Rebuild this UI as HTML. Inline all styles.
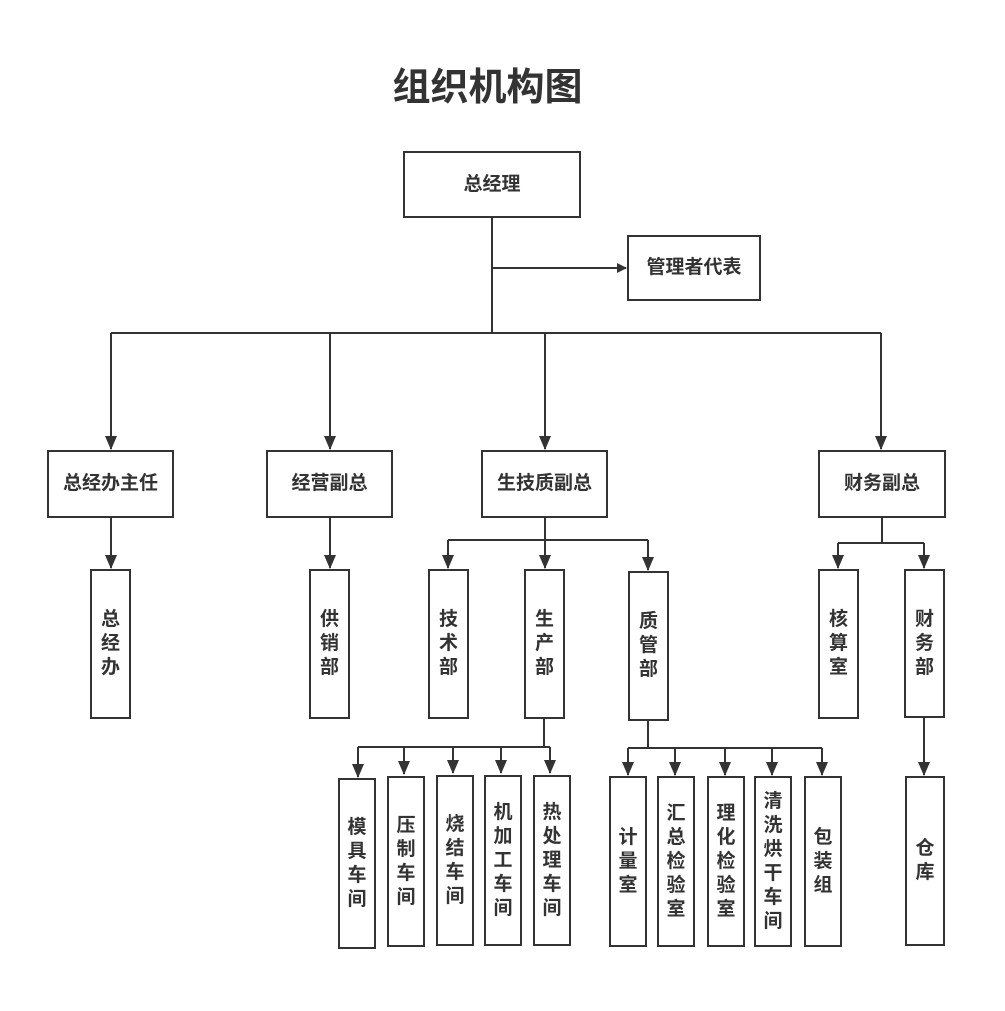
<!DOCTYPE html>
<html><head><meta charset="utf-8"><style>
body{margin:0;background:#fff;}
#c{position:relative;width:1005px;height:1011px;overflow:hidden;font-family:"Liberation Sans","Noto Sans CJK SC",sans-serif;color:#333;}
.b{position:absolute;box-sizing:border-box;border:2px solid #333;background:#fff;display:flex;align-items:center;justify-content:center;text-align:center;font-weight:bold;font-size:19px;line-height:24px;}
.t{position:absolute;left:0;width:975px;top:56px;text-align:center;font-weight:bold;font-size:38px;}
svg{position:absolute;left:0;top:0;}
</style></head><body><div id="c">
<div class="t">组织机构图</div>
<svg width="1005" height="1011">
<defs><marker id="a" markerWidth="10" markerHeight="10" refX="9" refY="5" orient="auto" markerUnits="userSpaceOnUse"><path d="M0,0 L10,5 L0,10z" fill="#333"/></marker>
<marker id="d" markerWidth="12" markerHeight="14" refX="6" refY="13" orient="0" markerUnits="userSpaceOnUse"><path d="M0,0 L12,0 L6,14z" fill="#333"/></marker></defs>
<g stroke="#333" stroke-width="2" fill="none">
<path d="M492 217V333M111 333H881"/>
<path d="M492 268H626" marker-end="url(#a)"/>
<path d="M111 333V449" marker-end="url(#d)"/>
<path d="M330 333V449" marker-end="url(#d)"/>
<path d="M545 333V449" marker-end="url(#d)"/>
<path d="M881 333V449" marker-end="url(#d)"/>
<path d="M111 517V568" marker-end="url(#d)"/>
<path d="M330 517V568" marker-end="url(#d)"/>
<path d="M545 517V540M448 540H648"/>
<path d="M448 540V568" marker-end="url(#d)"/>
<path d="M545 540V568" marker-end="url(#d)"/>
<path d="M648 540V570" marker-end="url(#d)"/>
<path d="M882 517V543M838 543H924"/>
<path d="M838 543V568" marker-end="url(#d)"/>
<path d="M924 543V568" marker-end="url(#d)"/>
<path d="M924 717V775" marker-end="url(#d)"/>
<path d="M544 718V747M358 747H550"/>
<path d="M358 747V777" marker-end="url(#d)"/>
<path d="M404 747V774" marker-end="url(#d)"/>
<path d="M453 747V773" marker-end="url(#d)"/>
<path d="M501 747V773" marker-end="url(#d)"/>
<path d="M550 747V773" marker-end="url(#d)"/>
<path d="M648 720V748M628 748H822"/>
<path d="M628 748V775" marker-end="url(#d)"/>
<path d="M675 748V775" marker-end="url(#d)"/>
<path d="M725 748V775" marker-end="url(#d)"/>
<path d="M772 748V775" marker-end="url(#d)"/>
<path d="M822 748V775" marker-end="url(#d)"/>
</g></svg>
<div class="b" style="left:403px;top:151px;width:178px;height:67px">总经理</div>
<div class="b" style="left:627px;top:235px;width:134px;height:66px">管理者代表</div>
<div class="b" style="left:47px;top:450px;width:127px;height:68px">总经办主任</div>
<div class="b" style="left:266px;top:450px;width:127px;height:68px">经营副总</div>
<div class="b" style="left:481px;top:450px;width:127px;height:68px">生技质副总</div>
<div class="b" style="left:818px;top:450px;width:128px;height:68px">财务副总</div>
<div class="b" style="left:90px;top:569px;width:41px;height:150px">总<br>经<br>办</div>
<div class="b" style="left:309px;top:569px;width:41px;height:150px">供<br>销<br>部</div>
<div class="b" style="left:428px;top:569px;width:41px;height:150px">技<br>术<br>部</div>
<div class="b" style="left:524px;top:569px;width:41px;height:150px">生<br>产<br>部</div>
<div class="b" style="left:628px;top:571px;width:41px;height:150px">质<br>管<br>部</div>
<div class="b" style="left:818px;top:569px;width:41px;height:150px">核<br>算<br>室</div>
<div class="b" style="left:904px;top:569px;width:41px;height:149px">财<br>务<br>部</div>
<div class="b" style="left:905px;top:776px;width:40px;height:170px">仓<br>库</div>
<div class="b" style="left:338px;top:778px;width:38px;height:171px">模<br>具<br>车<br>间</div>
<div class="b" style="left:387px;top:776px;width:38px;height:171px">压<br>制<br>车<br>间</div>
<div class="b" style="left:436px;top:775px;width:38px;height:171px">烧<br>结<br>车<br>间</div>
<div class="b" style="left:484px;top:775px;width:38px;height:171px">机<br>加<br>工<br>车<br>间</div>
<div class="b" style="left:533px;top:775px;width:38px;height:171px">热<br>处<br>理<br>车<br>间</div>
<div class="b" style="left:609px;top:776px;width:38px;height:171px">计<br>量<br>室</div>
<div class="b" style="left:657px;top:776px;width:38px;height:171px">汇<br>总<br>检<br>验<br>室</div>
<div class="b" style="left:707px;top:776px;width:38px;height:171px">理<br>化<br>检<br>验<br>室</div>
<div class="b" style="left:754px;top:776px;width:38px;height:171px">清<br>洗<br>烘<br>干<br>车<br>间</div>
<div class="b" style="left:804px;top:776px;width:38px;height:171px">包<br>装<br>组</div>
</div></body></html>
